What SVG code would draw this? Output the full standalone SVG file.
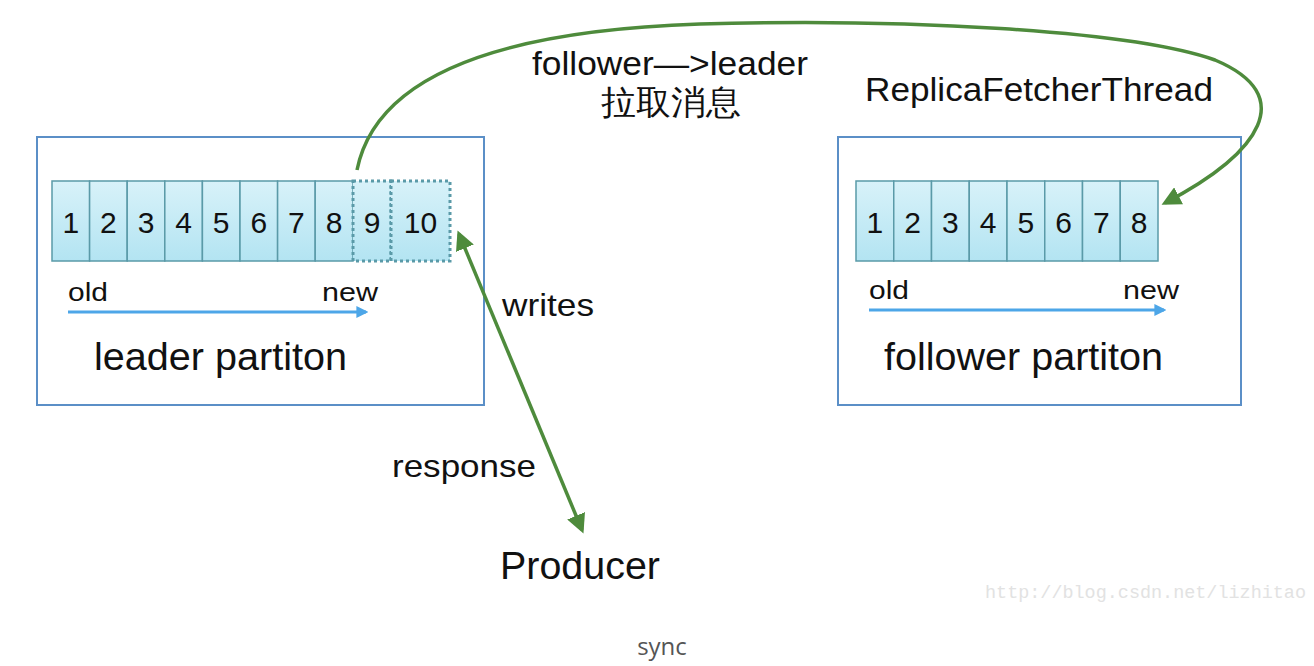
<svg xmlns="http://www.w3.org/2000/svg" width="1314" height="666" viewBox="0 0 1314 666">
<defs>
<linearGradient id="cellg" x1="0" y1="0" x2="0" y2="1">
<stop offset="0" stop-color="#d8f2f9"/>
<stop offset="1" stop-color="#b3e4f2"/>
</linearGradient>
<marker id="ga" viewBox="0 0 10 10" refX="8" refY="5" markerWidth="5.5" markerHeight="5.5" orient="auto-start-reverse" markerUnits="strokeWidth">
<path d="M0,0 L10,5 L0,10 z" fill="#4e8b3c"/>
</marker>
<marker id="ba" viewBox="0 0 10 10" refX="8" refY="5" markerWidth="4" markerHeight="4" orient="auto" markerUnits="strokeWidth">
<path d="M0,0 L10,5 L0,10 z" fill="#4da6e8"/>
</marker>
</defs>
<style>
.box{fill:#fff;stroke:#5b8fc7;stroke-width:2}
.cell{fill:url(#cellg);stroke:#5a9aa8;stroke-width:1.5}
.dcell{fill:url(#cellg);stroke:#5a9aa8;stroke-width:3;stroke-dasharray:3 3}
.num{font-family:"Liberation Sans",Arial,sans-serif;font-size:30px;fill:#111;text-anchor:middle}
.t{font-family:"Liberation Sans",Arial,sans-serif;fill:#111}
.g{fill:none;stroke:#4e8b3c;stroke-width:3.5}
.b{fill:none;stroke:#4da6e8;stroke-width:3}
</style>
<rect width="1314" height="666" fill="#fff"/>
<g id="leader">
<rect class="box" x="37" y="137" width="447" height="268"/>
<rect class="cell" x="52" y="181" width="37.6" height="80"/>
<rect class="cell" x="89.6" y="181" width="37.6" height="80"/>
<rect class="cell" x="127.2" y="181" width="37.6" height="80"/>
<rect class="cell" x="164.8" y="181" width="37.6" height="80"/>
<rect class="cell" x="202.4" y="181" width="37.6" height="80"/>
<rect class="cell" x="240" y="181" width="37.6" height="80"/>
<rect class="cell" x="277.6" y="181" width="37.6" height="80"/>
<rect class="cell" x="315.2" y="181" width="37.8" height="80"/>
<rect class="dcell" x="353" y="181" width="38" height="80"/>
<rect class="dcell" x="391" y="181" width="59" height="80"/>
<text class="num" x="70.8" y="233">1</text>
<text class="num" x="108.4" y="233">2</text>
<text class="num" x="146" y="233">3</text>
<text class="num" x="183.6" y="233">4</text>
<text class="num" x="221.2" y="233">5</text>
<text class="num" x="258.8" y="233">6</text>
<text class="num" x="296.4" y="233">7</text>
<text class="num" x="334" y="233">8</text>
<text class="num" x="372" y="233">9</text>
<text class="num" x="420.5" y="233">10</text>
<text class="t" x="68" y="301" font-size="25" textLength="40" lengthAdjust="spacingAndGlyphs">old</text>
<text class="t" x="322" y="301" font-size="25" textLength="56" lengthAdjust="spacingAndGlyphs">new</text>
<line class="b" x1="68" y1="312" x2="366" y2="312" marker-end="url(#ba)"/>
<text class="t" x="94" y="370" font-size="38" textLength="253" lengthAdjust="spacingAndGlyphs">leader partiton</text>
</g>
<g id="follower">
<rect class="box" x="838" y="137" width="403" height="268"/>
<rect class="cell" x="856" y="181" width="37.75" height="80"/>
<rect class="cell" x="893.75" y="181" width="37.75" height="80"/>
<rect class="cell" x="931.5" y="181" width="37.75" height="80"/>
<rect class="cell" x="969.25" y="181" width="37.75" height="80"/>
<rect class="cell" x="1007" y="181" width="37.75" height="80"/>
<rect class="cell" x="1044.75" y="181" width="37.75" height="80"/>
<rect class="cell" x="1082.5" y="181" width="37.75" height="80"/>
<rect class="cell" x="1120.25" y="181" width="37.75" height="80"/>
<text class="num" x="874.9" y="233">1</text>
<text class="num" x="912.6" y="233">2</text>
<text class="num" x="950.4" y="233">3</text>
<text class="num" x="988.1" y="233">4</text>
<text class="num" x="1025.9" y="233">5</text>
<text class="num" x="1063.6" y="233">6</text>
<text class="num" x="1101.4" y="233">7</text>
<text class="num" x="1139.1" y="233">8</text>
<text class="t" x="869" y="299" font-size="25" textLength="40" lengthAdjust="spacingAndGlyphs">old</text>
<text class="t" x="1123" y="299" font-size="25" textLength="56" lengthAdjust="spacingAndGlyphs">new</text>
<line class="b" x1="869" y1="310" x2="1164" y2="310" marker-end="url(#ba)"/>
<text class="t" x="884" y="370" font-size="38" textLength="279" lengthAdjust="spacingAndGlyphs">follower partiton</text>
</g>
<g id="producer">
<text class="t" x="500" y="579" font-size="38" textLength="160" lengthAdjust="spacingAndGlyphs">Producer</text>
</g>
<g id="connectors">
<path class="g" d="M357,170 C372,95 455,32 700,24 C900,18 1130,30 1215,60 C1298,95 1262,152 1165,203" marker-end="url(#ga)"/>
<line class="g" x1="459" y1="234" x2="582" y2="530" marker-start="url(#ga)" marker-end="url(#ga)"/>
</g>
<g id="labels">
<text class="t" x="532" y="75" font-size="33" textLength="276" lengthAdjust="spacingAndGlyphs">follower—&gt;leader</text>
<text class="t" x="601" y="114" font-size="34" textLength="140" lengthAdjust="spacingAndGlyphs" font-family="'Noto Sans CJK SC',sans-serif">拉取消息</text>
<text class="t" x="865" y="101" font-size="33" textLength="348" lengthAdjust="spacingAndGlyphs">ReplicaFetcherThread</text>
<text class="t" x="502" y="316" font-size="32" textLength="92" lengthAdjust="spacingAndGlyphs">writes</text>
<text class="t" x="392" y="477" font-size="32" textLength="144" lengthAdjust="spacingAndGlyphs">response</text>
<text x="662" y="655" font-size="24" text-anchor="middle" fill="#555" font-family="'Open Sans',sans-serif">sync</text>
<text x="985" y="598" font-size="18.4" fill="#e2e2e2" font-family="'Liberation Mono',monospace" textLength="321" lengthAdjust="spacingAndGlyphs">http://blog.csdn.net/lizhitao</text>
</g>
</svg>
